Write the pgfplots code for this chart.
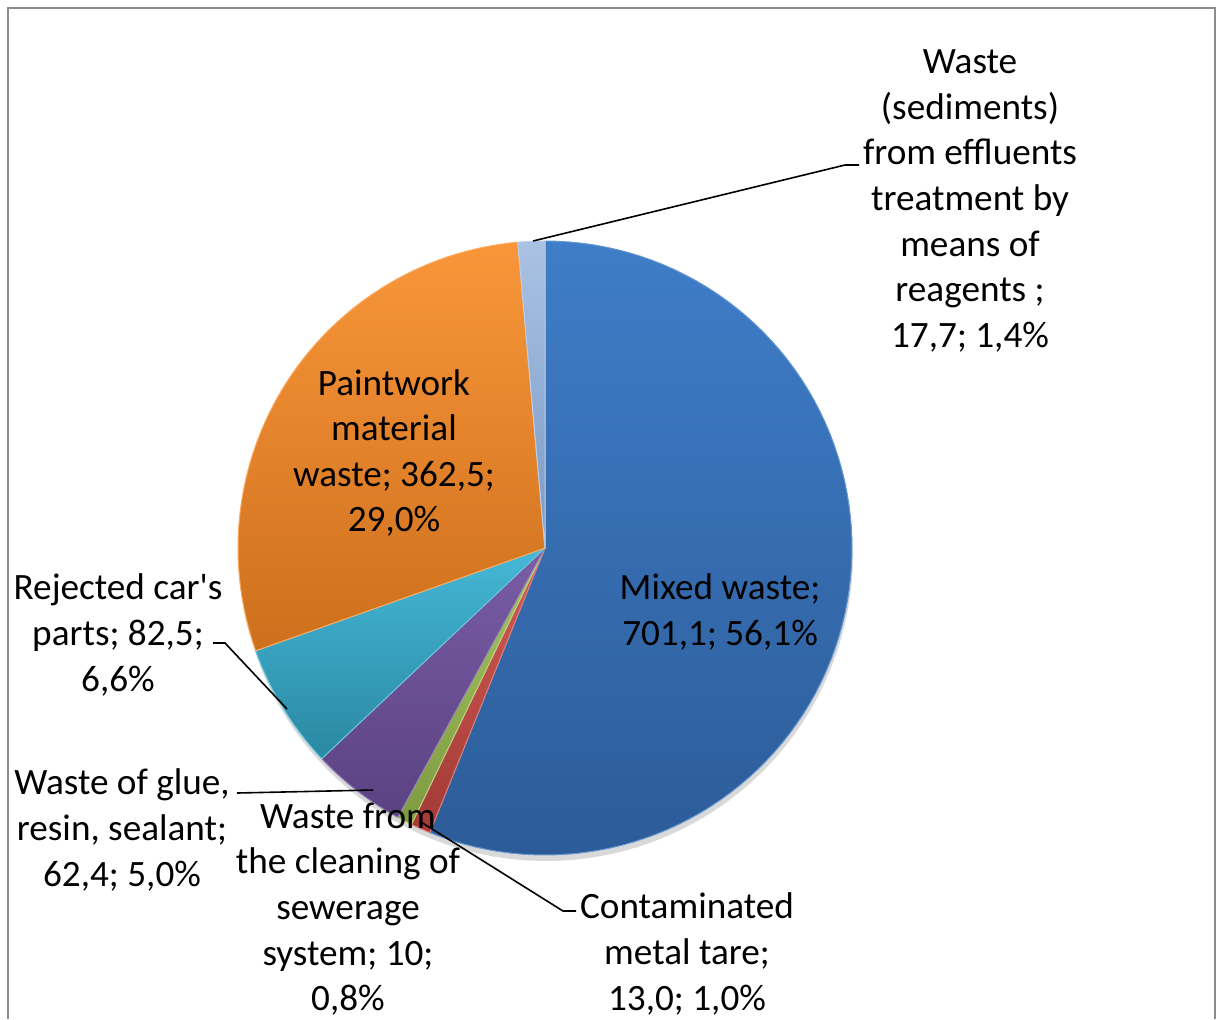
\documentclass[border=0pt]{standalone}
\usepackage{pgfplots}
\pgfplotsset{compat=1.18}
\usepackage{fontspec}
\setmainfont{Carlito}
\definecolor{c1t}{HTML}{3F7DC8}\definecolor{c1b}{HTML}{2C5C98}
\definecolor{c2t}{HTML}{D45B55}\definecolor{c2b}{HTML}{A23A35}
\definecolor{c3t}{HTML}{A6C662}\definecolor{c3b}{HTML}{7E9B40}
\definecolor{c4t}{HTML}{7A5DA6}\definecolor{c4b}{HTML}{5A4282}
\definecolor{c5t}{HTML}{45B8D6}\definecolor{c5b}{HTML}{2A88A3}
\definecolor{c6t}{HTML}{F9963A}\definecolor{c6b}{HTML}{CD6F1C}
\definecolor{c7t}{HTML}{A9C2E4}\definecolor{c7b}{HTML}{7C9AC4}
\definecolor{frame}{HTML}{8C8C8C}
% values (t): Mixed, Contaminated, Sewerage, Glue, Rejected, Paintwork, Sediments
\def\vA{701.1}\def\vB{13.0}\def\vC{10}\def\vD{62.4}\def\vE{82.5}\def\vF{362.5}\def\vG{17.7}
\pgfmathsetmacro{\tot}{\vA+\vB+\vC+\vD+\vE+\vF+\vG}
\pgfmathsetmacro{\aA}{90}
\pgfmathsetmacro{\aB}{\aA-360*(\vA/\tot)}
\pgfmathsetmacro{\aC}{\aB-360*(\vB/\tot)}
\pgfmathsetmacro{\aD}{\aC-360*(\vC/\tot)}
\pgfmathsetmacro{\aE}{\aD-360*(\vD/\tot)}
\pgfmathsetmacro{\aF}{\aE-360*(\vE/\tot)}
\pgfmathsetmacro{\aG}{\aF-360*(\vF/\tot)}
\pgfmathsetmacro{\aH}{\aG-360*(\vG/\tot)}
\def\cx{545}\def\cy{548}\def\rr{307}
\newcommand{\slice}[4]{%
  \addplot[top color=#3, bottom color=#4, draw=#3!80!white, line width=0.5pt, line join=round,
    domain=#1:#2, samples=90, variable=\t]
    ({\cx+\rr*cos(\t)},{\cy-\rr*sin(\t)}) -- (axis cs:\cx,\cy) -- cycle;}
\tikzset{lbl/.style={font=\fontsize{18.6}{22.8}\selectfont, align=center, text=black, inner sep=0pt}}
\begin{document}
\begin{tikzpicture}
\begin{axis}[width=609pt, height=509.5pt, scale only axis, hide axis, clip=false,
  xmin=0, xmax=1218, ymin=0, ymax=1019, y dir=reverse]
\draw[frame, line width=1.1pt] (axis cs:8,1019) -- (axis cs:8,8) -- (axis cs:1215,8) -- (axis cs:1215,1019);
% shadow
\addplot[fill=black, draw=none, opacity=0.15, domain=0:360, samples=120, variable=\t]
  ({\cx+1+\rr*cos(\t)},{\cy+6-\rr*sin(\t)}) -- cycle;
\slice{\aB}{\aA}{c1t}{c1b}
\slice{\aC}{\aB}{c2t}{c2b}
\slice{\aD}{\aC}{c3t}{c3b}
\slice{\aE}{\aD}{c4t}{c4b}
\slice{\aF}{\aE}{c5t}{c5b}
\slice{\aG}{\aF}{c6t}{c6b}
\slice{\aH}{\aG}{c7t}{c7b}
% leader lines
\draw[black, line width=0.8pt] (axis cs:533,241) -- (axis cs:845,165) -- (axis cs:859,165);
\draw[black, line width=0.8pt] (axis cs:213,643) -- (axis cs:225,643) -- (axis cs:287,709);
\draw[black, line width=0.8pt] (axis cs:237,793) -- (axis cs:373,790);
\draw[black, line width=0.8pt] (axis cs:421,822) -- (axis cs:563,911) -- (axis cs:576,911);
% labels
\node[lbl] at (axis cs:970,201) {Waste\\(sediments)\\from effluents\\treatment by\\means of\\reagents ;\\17,7; 1,4\%};
\node[lbl] at (axis cs:394,453) {Paintwork\\material\\waste; 362,5;\\29,0\%};
\node[lbl] at (axis cs:720,612) {Mixed waste;\\701,1; 56,1\%};
\node[lbl] at (axis cs:118,635) {Rejected car\textquotesingle s\\parts; 82,5;\\6,6\%};
\node[lbl] at (axis cs:122,830) {Waste of glue,\\resin, sealant;\\62,4; 5,0\%};
\node[lbl] at (axis cs:348,909) {Waste from\\the cleaning of\\sewerage\\system; 10;\\0,8\%};
\node[lbl] at (axis cs:687,954) {Contaminated\\metal tare;\\13,0; 1,0\%};
\end{axis}
\pgfresetboundingbox
\useasboundingbox (current axis.south west) rectangle (current axis.north east);
\end{tikzpicture}
\end{document}
